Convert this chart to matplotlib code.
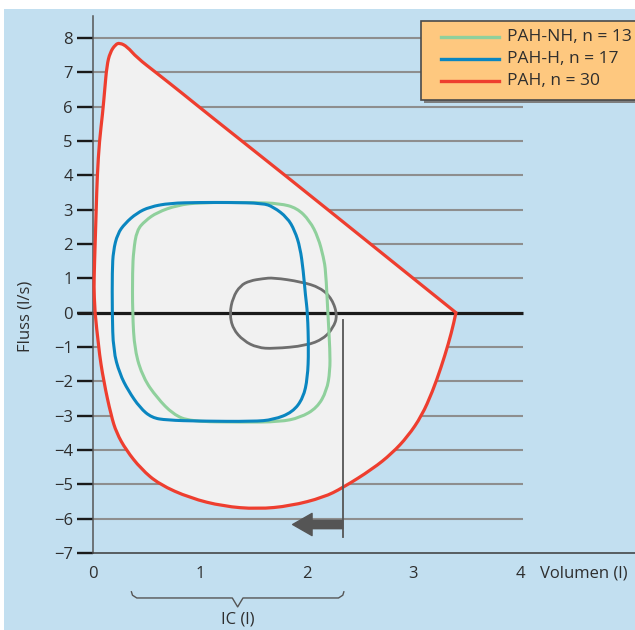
import matplotlib
matplotlib.use("Agg")
import matplotlib.pyplot as plt
from matplotlib.patches import Rectangle, FancyArrowPatch, ArrowStyle, PathPatch
from matplotlib.lines import Line2D
from matplotlib.path import Path

plt.rcParams['font.family'] = ['Open Sans', 'DejaVu Sans']

# ---------------- data ----------------
x_ticks = [0, 1, 2, 3, 4]
y_ticks = list(range(-7, 9))
x_label = "Volumen (l)"
y_label = "Fluss (l/s)"
ic_label = "IC (l)"
series_labels = ["PAH-NH, n = 13", "PAH-H, n = 17", "PAH, n = 30"]

# PAH (n = 30) maximal flow-volume loop: expiratory (upper) branch
pah_up_x = [0.02, 0.01, 0.01, 0.02, 0.03, 0.04, 0.06, 0.09, 0.11, 0.13, 0.16, 0.21, 0.25,
            0.32, 0.41, 0.60, 0.84, 1.07, 1.80, 2.60, 3.00, 3.40]
pah_up_y = [0.00, 0.50, 1.00, 2.00, 3.00, 4.00, 5.00, 5.80, 6.50, 7.20, 7.58, 7.81, 7.86,
            7.75, 7.43, 6.97, 6.38, 5.80, 4.00, 2.00, 1.00, 0.00]
# inspiratory (lower) branch
pah_lo_x = [3.40, 3.38, 3.33, 3.26, 3.18, 3.08, 2.95, 2.80, 2.62, 2.34, 2.16, 1.85,
            1.54, 1.22, 0.91, 0.62, 0.45, 0.31, 0.22, 0.17, 0.10, 0.05, 0.02]
pah_lo_y = [0.00, -0.30, -0.90, -1.60, -2.30, -3.00, -3.60, -4.10, -4.55, -5.10, -5.38,
            -5.63, -5.72, -5.64, -5.40, -5.00, -4.55, -4.00, -3.50, -3.00, -2.00, -1.00, 0.00]

# PAH-H (n = 17) tidal-breathing loop
pahh_x = [0.72, 1.00, 1.28, 1.59, 1.69, 1.82, 1.89, 1.94, 1.97, 1.99, 2.01, 2.02, 2.01,
          1.97, 1.87, 1.69, 1.50, 1.00, 0.69, 0.55, 0.44, 0.33, 0.25, 0.19, 0.18, 0.18,
          0.19, 0.23, 0.30, 0.41, 0.53]
pahh_y = [3.19, 3.21, 3.21, 3.19, 3.08, 2.77, 2.39, 1.90, 1.22, 0.50, 0.00, -1.10, -1.90,
          -2.48, -2.90, -3.12, -3.17, -3.16, -3.13, -3.06, -2.77, -2.27, -1.78, -1.10, 0.00, 1.22,
          1.80, 2.30, 2.60, 2.90, 3.08]

# PAH-NH (n = 13) tidal-breathing loop
pahnh_x = [1.00, 1.50, 1.75, 1.91, 2.03, 2.11, 2.16, 2.18, 2.20, 2.22, 2.22, 2.19, 2.10,
           1.94, 1.75, 1.40, 0.91, 0.75, 0.60, 0.47, 0.39, 0.37, 0.37, 0.38, 0.41, 0.49,
           0.60, 0.79]
pahnh_y = [3.21, 3.21, 3.18, 3.05, 2.68, 2.19, 1.60, 1.22, 0.00, -1.10, -1.70, -2.27, -2.77,
           -3.06, -3.18, -3.19, -3.17, -2.96, -2.48, -1.90, -1.10, 0.00, 1.22, 1.80, 2.40, 2.68,
           2.92, 3.13]

# resting tidal loop (grey)
rest_x = [1.28, 1.31, 1.38, 1.47, 1.59, 1.69, 1.95, 2.13, 2.24, 2.29, 2.25, 2.16, 2.00,
          1.69, 1.54, 1.41, 1.31]
rest_y = [-0.03, 0.44, 0.79, 0.93, 0.99, 1.02, 0.90, 0.73, 0.40, -0.09, -0.44, -0.76, -0.96,
          -1.05, -1.02, -0.82, -0.47]

ic_start, ic_end = 0.36, 2.35        # IC brace range (l)
eelv = 2.34                          # end-expiratory volume marker (l)
shift_to = 1.87                      # arrow end (l)
shift_y = -6.17                      # arrow height (l/s)

# ---------------- helpers ----------------
def open_curve(xs, ys):
    p = list(zip(xs, ys))
    n = len(p)
    verts = [p[0]]
    codes = [Path.MOVETO]
    for i in range(1, n - 1):
        end = p[n - 1] if i == n - 2 else ((p[i][0] + p[i + 1][0]) / 2, (p[i][1] + p[i + 1][1]) / 2)
        verts += [p[i], end]
        codes += [Path.CURVE3, Path.CURVE3]
    return verts, codes


def closed_curve(xs, ys):
    p = list(zip(xs, ys))
    n = len(p)
    mid = lambda a, b: ((a[0] + b[0]) / 2, (a[1] + b[1]) / 2)
    verts = [mid(p[n - 1], p[0])]
    codes = [Path.MOVETO]
    for i in range(n):
        verts += [p[i], mid(p[i], p[(i + 1) % n])]
        codes += [Path.CURVE3, Path.CURVE3]
    return Path(verts, codes)


# ---------------- style ----------------
W, H, DPI = 635, 630, 100
BG = '#c2dff0'
FILL = '#f1f1f1'
RED = '#ee3e2f'
BLUE = '#0a86c0'
GREEN = '#8fd09c'
GREYLOOP = '#6e6e6e'
GRID = '#8e8e8e'
TXT = '#2e2e2e'

fig = plt.figure(figsize=(W / DPI, H / DPI), dpi=DPI, facecolor='white')

fig.add_artist(Rectangle((4 / W, 0), 1 - 4 / W, (H - 9) / H, transform=fig.transFigure,
                         facecolor=BG, edgecolor='none', zorder=0))

x0px, x4px = 93, 520
y8py, ym7py = 38, 553
pxx = (x4px - x0px) / 4.0
pxy = (ym7py - y8py) / 15.0
top_py = 9
ax = fig.add_axes([x0px / W, (H - ym7py) / H, (W - x0px) / W, (ym7py - top_py) / H])
ax.set_facecolor('none')
ax.set_xlim(0, (W - x0px) / pxx)
ax.set_ylim(-7, -7 + (ym7py - top_py) / pxy)

for s in ['top', 'right']:
    ax.spines[s].set_visible(False)
ax.spines['left'].set_bounds(-7, 8.63)
ax.spines['left'].set_color('#555555')
ax.spines['left'].set_linewidth(1.1)
ax.spines['bottom'].set_color('#3a3a3a')
ax.spines['bottom'].set_linewidth(1.1)

ax.set_yticks(y_ticks)
ax.set_yticklabels([str(v).replace('-', '\u2212') for v in y_ticks])
ax.set_xticks(x_ticks)
ax.set_xticklabels([str(v) for v in x_ticks])
ax.tick_params(axis='y', direction='out', length=11.5, width=1.7, color='#1a1a1a',
               pad=3, labelsize=12, labelcolor=TXT)
ax.tick_params(axis='x', length=0, pad=9, labelsize=12, labelcolor=TXT)

grid_end = 4.03
for v in y_ticks[1:]:
    if v != 0:
        ax.plot([0, grid_end], [v, v], color=GRID, lw=1.5, zorder=0.5, solid_capstyle='butt')

# PAH loop path (two branches with a sharp corner at the right)
uv, uc = open_curve(pah_up_x, pah_up_y)
lv, lc = open_curve(pah_lo_x, pah_lo_y)
pah_path = Path(uv + lv[1:] + [uv[0]], uc + lc[1:] + [Path.CLOSEPOLY])
ax.add_patch(PathPatch(pah_path, facecolor=FILL, edgecolor='none', zorder=1))

ax.plot([-0.15, grid_end], [0, 0], color='#1a1a1a', lw=2.3, zorder=2, clip_on=False,
        solid_capstyle='butt')

ax.add_patch(PathPatch(closed_curve(rest_x, rest_y), facecolor='none', edgecolor=GREYLOOP,
                       lw=2.0, zorder=3))
ax.add_patch(PathPatch(closed_curve(pahnh_x, pahnh_y), facecolor='none', edgecolor=GREEN,
                       lw=2.2, zorder=3.1))
ax.add_patch(PathPatch(closed_curve(pahh_x, pahh_y), facecolor='none', edgecolor=BLUE,
                       lw=2.2, zorder=3.2))
ax.add_patch(PathPatch(pah_path, facecolor='none', edgecolor=RED, lw=2.3, zorder=4,
                       joinstyle='miter', clip_on=False))

# EELV marker and arrow
ax.plot([eelv, eelv], [-0.22, -6.53], color='#555555', lw=1.3, zorder=5)
arr = FancyArrowPatch((eelv, shift_y), (shift_to, shift_y),
                      arrowstyle=ArrowStyle('Simple', head_length=1.4, head_width=1.6,
                                            tail_width=0.6),
                      mutation_scale=10, color='#555555', shrinkA=0, shrinkB=0, zorder=5)
ax.add_patch(arr)

# axis labels
ax.text((540 - x0px) / pxx, -7 - (573 - ym7py) / pxy, x_label, ha='left', va='center',
        fontsize=12, color=TXT, clip_on=False)
fig.text(26 / W, 1 - 316 / H, y_label, rotation=90, ha='center', va='center',
         fontsize=12, color=TXT)

# IC brace
yb_top, yb_mid, yb_tip = -8.13, -8.31, -8.57
mid = (ic_start + ic_end) / 2
bx = [ic_start, ic_start + 0.01, ic_start + 0.05, mid - 0.05, mid, mid + 0.05,
      ic_end - 0.05, ic_end - 0.01, ic_end]
by = [yb_top, yb_mid + 0.08, yb_mid, yb_mid, yb_tip, yb_mid, yb_mid, yb_mid + 0.08, yb_top]
ax.plot(bx, by, color='#555555', lw=1.0, clip_on=False, solid_joinstyle='round')
ax.text(mid, -8.93, ic_label, ha='center', va='center', fontsize=12, color=TXT,
        clip_on=False)

# legend (manual)
lx0, ltop, lbot, lx1 = 421, 21, 100, 650
fig.add_artist(Rectangle(((lx0 + 3) / W, (H - lbot - 3) / H), (lx1 - lx0) / W, (lbot - ltop) / H,
                         transform=fig.transFigure, facecolor='#7d7d7d', edgecolor='none',
                         zorder=9))
fig.add_artist(Rectangle((lx0 / W, (H - lbot) / H), (lx1 - lx0) / W, (lbot - ltop) / H,
                         transform=fig.transFigure, facecolor='#fec87f', edgecolor='#4a4a4a',
                         lw=1.2, zorder=10))
rows = [37, 59, 81]
for lab, col, py in zip(series_labels, [GREEN, BLUE, RED], rows):
    fig.add_artist(Line2D([441 / W, 499 / W], [(H - py) / H] * 2, transform=fig.transFigure,
                          color=col, lw=2.4, zorder=11))
    fig.text(507 / W, (H - py) / H, lab, ha='left', va='center', fontsize=12.5, color=TXT,
             zorder=11)

fig.savefig('out.png', dpi=DPI, facecolor='white')
